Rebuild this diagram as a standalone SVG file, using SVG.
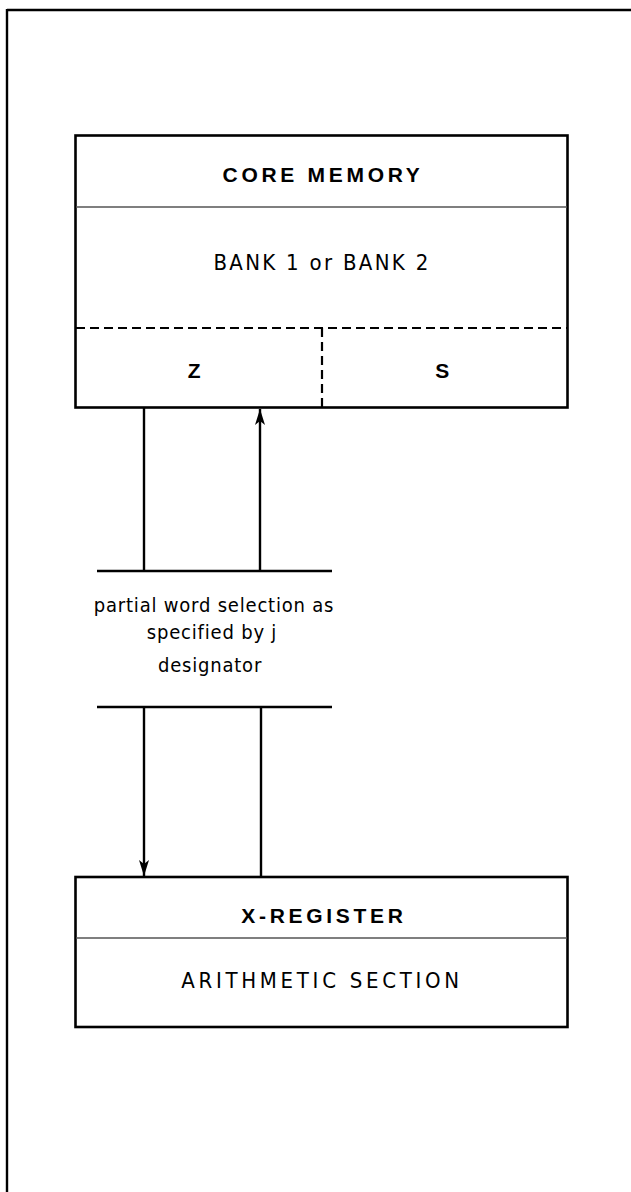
<svg xmlns="http://www.w3.org/2000/svg" width="631" height="1192" viewBox="0 0 631 1192">
<style>
.box{fill:none;stroke:#000;stroke-width:2.6}
.div{stroke:#555;stroke-width:1.4}
.dash{stroke:#000;stroke-width:2.2;stroke-dasharray:9 5}
.ln{stroke:#000;stroke-width:2.4;fill:none}
.b{font-family:"Liberation Sans","DejaVu Sans",sans-serif;font-weight:bold;font-size:21px;letter-spacing:3.7px;text-anchor:middle;fill:#000}
.n{font-family:"Liberation Sans Narrow","DejaVu Sans Condensed","Liberation Sans",sans-serif;font-size:22px;text-anchor:middle;fill:#000}
.t{font-family:"Liberation Sans Narrow","DejaVu Sans Condensed","Liberation Sans",sans-serif;font-size:20px;letter-spacing:0.8px;text-anchor:middle;fill:#000}
</style>
<defs>
<marker id="ah" markerWidth="16" markerHeight="10" refX="16" refY="5" orient="auto" markerUnits="userSpaceOnUse" viewBox="0 0 16 10">
<path d="M0,0 L16,5 L0,10 L4,5 Z" fill="#000"/>
</marker>
</defs>
<rect width="631" height="1192" fill="#fff"/>
<g id="frame">
<line x1="7" y1="10" x2="631" y2="10" class="ln" stroke-width="3"/>
<line x1="7" y1="9" x2="7" y2="1192" class="ln" stroke-width="3"/>
</g>
<g id="core-memory">
<rect x="75.5" y="135.5" width="492" height="272" class="box"/>
<line x1="76" y1="207" x2="567" y2="207" class="div"/>
<line x1="76" y1="328" x2="567" y2="328" class="dash"/>
<line x1="322" y1="328" x2="322" y2="407" class="dash"/>
<text x="323" y="182" class="b">CORE MEMORY</text>
<text x="322" y="270" class="n" letter-spacing="2.3">BANK 1 or BANK 2</text>
<text x="196" y="378" class="b">Z</text>
<text x="444" y="378" class="b">S</text>
</g>
<g id="selection">
<line x1="97" y1="571" x2="332" y2="571" class="ln"/>
<line x1="97" y1="707" x2="332" y2="707" class="ln"/>
<text x="214" y="612" class="t">partial word selection as</text>
<text x="212" y="639" class="t">specified by j</text>
<text x="210" y="672" class="t">designator</text>
</g>
<g id="x-register">
<rect x="75.5" y="877" width="492" height="150" class="box"/>
<line x1="76" y1="938" x2="567" y2="938" class="div"/>
<text x="324" y="923" class="b">X-REGISTER</text>
<text x="322" y="988" class="n" letter-spacing="3.7">ARITHMETIC SECTION</text>
</g>
<g id="connectors">
<line x1="144" y1="408" x2="144" y2="571" class="ln"/>
<line x1="260" y1="571" x2="260" y2="409" class="ln" marker-end="url(#ah)"/>
<line x1="144" y1="707" x2="144" y2="876" class="ln" marker-end="url(#ah)"/>
<line x1="261" y1="707" x2="261" y2="876" class="ln"/>
</g>
</svg>
